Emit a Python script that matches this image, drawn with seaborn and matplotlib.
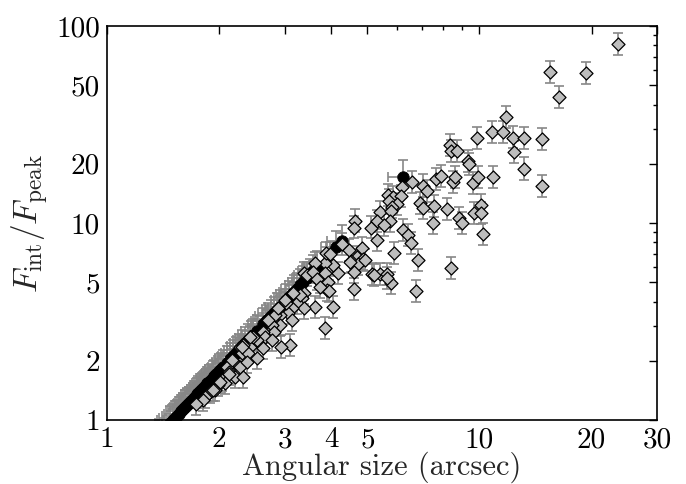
import numpy as np
import pandas as pd
import matplotlib
matplotlib.use("Agg")
import matplotlib.pyplot as plt
import seaborn as sns
from matplotlib.ticker import FixedLocator, FixedFormatter, NullFormatter

# ---- data: resolved sources (diamonds) ----
diam_x = [23.6, 15.5, 19.3, 16.4, 14.7, 14.7,
          11.8, 10.8, 11.55, 9.87, 12.3, 13.2, 12.4, 13.2,
          8.32, 8.4, 8.69, 9.34, 9.4, 7.65, 7.87, 8.51, 8.62, 9.63, 9.9, 10.9,
          7.57, 8.2, 7.49, 8.81, 8.98, 9.65, 10.1, 10.1, 10.2, 8.37,
          6.59, 6.19, 5.67, 5.87, 6.17, 5.71, 6.0, 5.82, 5.41, 5.8, 5.3, 5.76, 5.54, 5.12,
          4.63, 4.6, 5.3, 7.04, 7.22, 6.93, 7.06, 6.22, 6.41, 6.55, 5.91, 6.84,
          5.16, 5.41, 5.65, 5.8, 5.65, 6.74, 4.61,
          4.27, 4.45, 4.85, 4.68, 4.52, 4.88, 4.73, 4.61, 4.17, 4.05,
          3.85, 3.37, 3.87, 3.62, 3.85, 3.45, 3.58, 3.73, 3.66, 3.93, 3.89, 3.62,
          3.37, 3.33, 3.23, 3.37, 3.13, 3.06, 2.91, 3.13, 2.91, 2.77, 2.8, 2.63,
          2.66, 2.77, 2.52, 2.42, 2.63, 3.1, 2.94, 3.85, 2.28, 2.47, 2.91, 3.03,
          3.3, 2.82, 2.71, 4.04, 3.95, 5.2, 3.73, 3.97, 4.49, 4.93,
          2.42, 2.32, 2.3, 2.39, 2.52, 2.21, 2.28, 2.1, 2.12, 2.21, 2.32, 2.03,
          2.07, 1.99, 1.95, 1.89, 1.83, 1.81, 1.73, 2.16, 2.37,
          2.87, 3.0, 3.16, 2.3, 2.12, 2.01, 1.93]
diam_y = [81, 58.2, 57.5, 43.8, 26.6, 15.4,
          34.4, 28.9, 28.9, 27.1, 27.2, 27.1, 22.9, 18.9,
          24.9, 23.2, 23.2, 20.6, 19.9, 16.7, 17.3, 16.2, 17.1, 15.9, 17.1, 17.2,
          12.2, 11.8, 9.96, 10.6, 10.0, 11.2, 12.3, 11.2, 8.83, 5.93,
          16.2, 15.2, 13.9, 13.5, 13.7, 13.0, 12.5, 12.1, 11.4, 11.5, 10.2, 10.3, 9.8, 9.5,
          10.3, 9.5, 8.17, 15.5, 14.6, 12.6, 11.97, 9.21, 8.7, 7.92, 7.07, 6.47,
          5.49, 5.49, 5.49, 4.94, 5.28, 4.53, 4.61,
          7.8, 7.29, 7.44, 6.75, 6.41, 6.54, 6.19, 5.62, 5.6, 6.1,
          6.24, 5.55, 7.02, 6.24, 5.55, 5.47, 5.66, 5.04, 5.18, 5.04, 4.57, 3.76,
          4.4, 4.15, 3.91, 3.69, 3.69, 3.48, 3.41, 3.22, 3.03, 3.03, 2.81, 2.81,
          2.65, 2.55, 2.55, 2.36, 2.31, 2.4, 2.36, 2.92, 2.36, 2.65, 3.76, 3.91,
          4.31, 3.41, 3.22, 3.76, 4.53, 5.44, 4.76, 7.0, 6.36, 6.5,
          2.65, 2.4, 2.18, 2.18, 2.06, 1.94, 1.87, 1.87, 1.76, 1.66, 1.66, 1.6,
          1.54, 1.5, 1.42, 1.39, 1.31, 1.26, 1.21, 2.02, 1.98,
          3.72, 4.06, 4.4, 2.36, 1.72, 1.56, 1.42]

# ---- data: unresolved sources (black circles) ----
unres_x = [1.48, 1.50, 1.52, 1.54, 1.56, 1.58, 1.60, 1.62, 1.64, 1.66, 1.68, 1.70,
           1.72, 1.74, 1.76, 1.78, 1.80, 1.82, 1.84, 1.86, 1.88, 1.90, 1.92, 1.94,
           1.96, 1.98, 2.00, 2.02, 2.05, 2.10, 2.14, 2.18, 2.22, 2.26, 2.31, 2.35,
           2.39, 2.43, 2.47, 2.52, 2.63, 2.67, 2.71, 2.75, 2.80, 2.86, 2.91, 3.03,
           3.08, 3.13, 3.18, 3.23, 3.30, 3.36, 3.44, 3.50, 3.58, 3.66, 4.12, 4.28, 6.24]
unres_y = [0.97, 1.00, 1.03, 1.05, 1.08, 1.11, 1.14, 1.17, 1.20, 1.22, 1.25, 1.28,
           1.31, 1.35, 1.38, 1.41, 1.44, 1.47, 1.50, 1.54, 1.57, 1.60, 1.64, 1.67,
           1.71, 1.74, 1.78, 1.81, 1.87, 1.96, 2.04, 2.11, 2.19, 2.27, 2.37, 2.45,
           2.54, 2.62, 2.71, 2.82, 3.07, 3.17, 3.26, 3.36, 3.48, 3.64, 3.76, 4.08,
           4.22, 4.35, 4.49, 4.64, 4.84, 5.02, 5.26, 5.44, 5.70, 5.95, 7.55, 8.08, 17.2]

diam_err_lo, diam_err_hi = 0.12, 0.14   # relative flux-ratio errors
unres_xerr_lo, unres_yerr_hi = 0.09, 0.21

x_ticks = [1, 2, 3, 4, 5, 10, 20, 30]
y_ticks = [1, 2, 5, 10, 20, 50, 100]

# ---- style ----
sns.set_style("white")
plt.rcParams.update({
    "font.family": "serif",
    "font.serif": ["cmr10", "DejaVu Serif"],
    "mathtext.fontset": "cm",
    "axes.unicode_minus": False,
    "axes.formatter.use_mathtext": True,
})

fig = plt.figure(figsize=(6.86, 4.84), dpi=100)
ax = fig.add_axes([0.156, 0.132, 0.802, 0.814])

dx = np.array(diam_x); dy = np.array(diam_y)
ux = np.array(unres_x); uy = np.array(unres_y)

ecol = "#878787"
ax.errorbar(ux, uy, xerr=[ux * unres_xerr_lo, np.zeros_like(ux)],
            yerr=[np.zeros_like(uy), uy * unres_yerr_hi],
            fmt="none", ecolor=ecol, elinewidth=1.2, capsize=3.5, capthick=1.2, zorder=1)
ax.errorbar(dx, dy, yerr=[dy * diam_err_lo, dy * diam_err_hi],
            fmt="none", ecolor=ecol, elinewidth=1.2, capsize=3.5, capthick=1.2, zorder=1)

df_u = pd.DataFrame({"size": ux, "ratio": uy})
df_d = pd.DataFrame({"size": dx, "ratio": dy})
sns.scatterplot(data=df_u, x="size", y="ratio", ax=ax, marker="o", s=68,
                color="black", edgecolor="black", linewidth=0.6, zorder=2)
sns.scatterplot(data=df_d, x="size", y="ratio", ax=ax, marker="D", s=44,
                color="#bdbdbd", edgecolor="black", linewidth=0.9, zorder=3)

ax.set_xscale("log")
ax.set_yscale("log")
ax.set_xlim(1, 30)
ax.set_ylim(1, 100)

ax.xaxis.set_major_locator(FixedLocator(x_ticks))
ax.xaxis.set_major_formatter(FixedFormatter([str(t) for t in x_ticks]))
ax.yaxis.set_major_locator(FixedLocator(y_ticks))
ax.yaxis.set_major_formatter(FixedFormatter([str(t) for t in y_ticks]))
xminor = [6, 7, 8, 9]
yminor = [3, 4, 6, 7, 8, 9, 30, 40, 60, 70, 80, 90]
ax.xaxis.set_minor_locator(FixedLocator(xminor))
ax.yaxis.set_minor_locator(FixedLocator(yminor))
ax.xaxis.set_minor_formatter(NullFormatter())
ax.yaxis.set_minor_formatter(NullFormatter())

ax.tick_params(which="both", direction="in", top=True, right=True, colors="black",
               labelsize=21, width=1.0)
ax.tick_params(which="major", length=6, pad=5)
ax.tick_params(which="minor", length=3)
for sp in ax.spines.values():
    sp.set_color("black")
    sp.set_linewidth(1.2)

ax.set_xlabel("Angular size (arcsec)", fontsize=22, labelpad=-1)
ax.set_ylabel(r"$F_{\rm int}/F_{\rm peak}$", fontsize=24, labelpad=4)

fig.savefig("out.png", dpi=100)
